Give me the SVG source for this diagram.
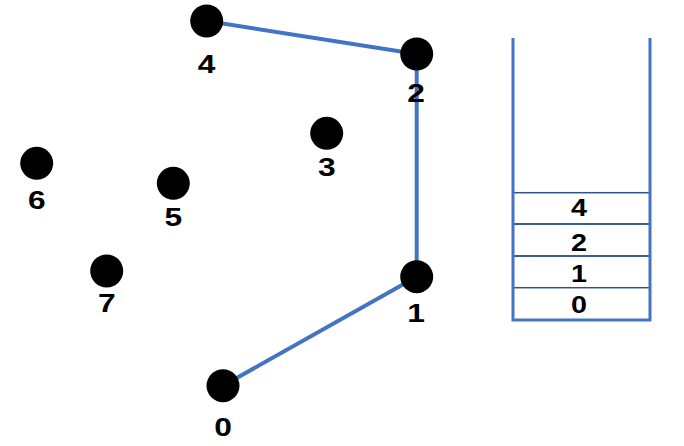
<svg xmlns="http://www.w3.org/2000/svg" width="684" height="446" viewBox="0 0 684 446">
<style>
.n{fill:#000}
.t{font-family:"Liberation Sans",Arial,sans-serif;font-size:26px;font-weight:bold;text-anchor:middle;fill:#000}
.k{font-family:"Liberation Sans",Arial,sans-serif;font-size:23px;font-weight:bold;text-anchor:middle;fill:#000}
.e{stroke:#4472C4;stroke-width:4;fill:none}
.s{stroke:#4472C4;stroke-width:3;fill:none}
.c{stroke:#2F528F;stroke-width:1.5;fill:none}
</style>
<rect width="684" height="446" fill="#fff"/>
<g id="edges">
<line class="e" x1="206.7" y1="21" x2="416.7" y2="54"/>
<line class="e" x1="416.7" y1="54" x2="416.7" y2="276.7"/>
<line class="e" x1="416.7" y1="276.7" x2="223" y2="385.7"/>
</g>
<g id="node0"><circle class="n" cx="223" cy="385.7" r="16.5"/><text class="t" transform="translate(223,436) scale(1.22,1)">0</text></g>
<g id="node1"><circle class="n" cx="416.7" cy="276.7" r="16.5"/><text class="t" transform="translate(416,322) scale(1.22,1)">1</text></g>
<g id="node2"><circle class="n" cx="416.7" cy="54" r="16.5"/><text class="t" transform="translate(416,101.5) scale(1.22,1)">2</text></g>
<g id="node3"><circle class="n" cx="326.7" cy="133.3" r="16.5"/><text class="t" transform="translate(326.7,175.5) scale(1.22,1)">3</text></g>
<g id="node4"><circle class="n" cx="206.7" cy="21" r="16.5"/><text class="t" transform="translate(206.5,72.5) scale(1.22,1)">4</text></g>
<g id="node5"><circle class="n" cx="173.3" cy="183.3" r="16.5"/><text class="t" transform="translate(173.3,225.5) scale(1.22,1)">5</text></g>
<g id="node6"><circle class="n" cx="36.7" cy="163.3" r="16.5"/><text class="t" transform="translate(36.7,208.5) scale(1.22,1)">6</text></g>
<g id="node7"><circle class="n" cx="106.7" cy="271" r="16.5"/><text class="t" transform="translate(106.7,311.5) scale(1.22,1)">7</text></g>
<g id="stack">
<rect class="c" x="513" y="192.7" width="137" height="31.3"/>
<rect class="c" x="513" y="224" width="137" height="32"/>
<rect class="c" x="513" y="256" width="137" height="31.7"/>
<polyline class="s" points="513,38 513,320 650,320 650,38"/>
<text class="k" transform="translate(579,216) scale(1.25,1)">4</text>
<text class="k" transform="translate(579,250.5) scale(1.25,1)">2</text>
<text class="k" transform="translate(579,281.5) scale(1.25,1)">1</text>
<text class="k" transform="translate(579,312.5) scale(1.25,1)">0</text>
</g>
</svg>
